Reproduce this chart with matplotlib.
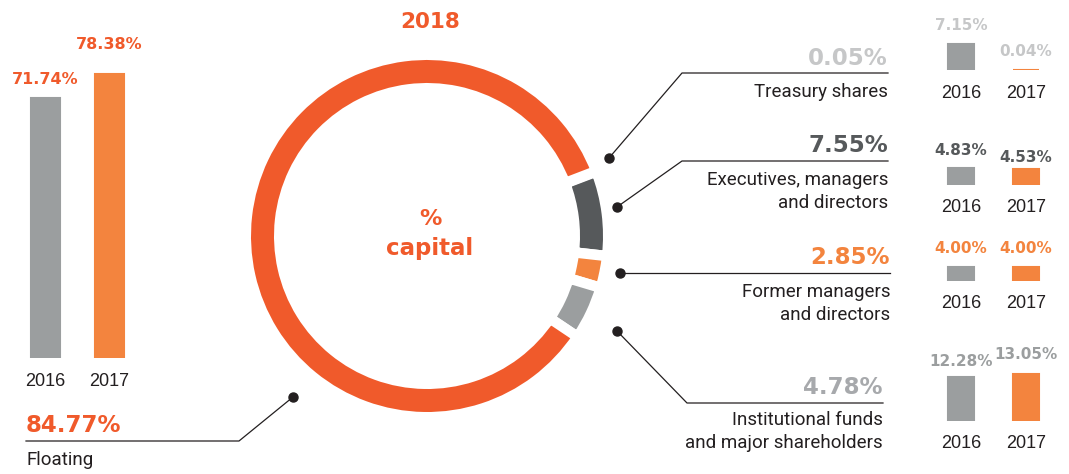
import matplotlib.pyplot as plt

W, H = 1069, 474

# datos 2018 (% capital)
shares_2018 = [0.05, 7.55, 2.85, 4.78, 84.77]
share_names = ["Treasury shares", "Executives, managers\nand directors",
               "Former managers\nand directors",
               "Institutional funds\nand major shareholders", "Floating"]
years = ["2016", "2017"]
floating_hist = [71.74, 78.38]
treasury_hist = [7.15, 0.04]
executives_hist = [4.83, 4.53]
former_hist = [4.00, 4.00]
institutional_hist = [12.28, 13.05]

RED = "#F05A2B"
ORANGE = "#F3843E"
DARK = "#56595B"
GRAY = "#9B9E9F"
LIGHT = "#C6C7C8"
INK = "#231F20"
NARROW = ["Roboto", "DejaVu Sans"]
SCALE = 3.62  # px por punto porcentual

fig = plt.figure(figsize=(W / 100, H / 100), dpi=100)


def px_axes(x0, y0, x1, y1):
    # caja en pixeles, origen arriba a la izquierda
    return fig.add_axes([x0 / W, 1 - y1 / H, (x1 - x0) / W, (y1 - y0) / H])


# donut
cx, cy, r_out, r_in, lw = 427, 236, 176, 153, 7.5
half = lw / 72 * 100 / 2
ax_pie = px_axes(cx - 195, cy - 195, cx + 195, cy + 195)
ax_pie.pie(shares_2018, colors=[LIGHT, DARK, ORANGE, GRAY, RED],
           startangle=21, counterclock=False, radius=r_out + half,
           wedgeprops=dict(width=r_out - r_in + 2 * half, edgecolor="white",
                           linewidth=lw))
ax_pie.set_xlim(-195, 195)
ax_pie.set_ylim(-195, 195)
ax_pie.axis("off")


def bar_group(vals, centers, base, bw, lbl_color, fs, offsets, top=15):
    step = centers[1] - centers[0]
    ax = px_axes(centers[0] - step / 2, base - SCALE * top,
                 centers[1] + step / 2, base)
    ax.set_xlim(-0.5, 1.5)
    ax.set_ylim(0, top)
    ax.bar([0, 1], vals, width=(bw - 2) / step, color=[GRAY, ORANGE],
           edgecolor=[GRAY, ORANGE], linewidth=1.5)
    for i, v in enumerate(vals):
        ax.annotate(f"{v:.2f}%", (i, v), xytext=(0, offsets[i]),
                    textcoords="offset pixels", ha="center", va="center",
                    color=lbl_color, fontsize=fs, fontweight="bold",
                    annotation_clip=False)
        ax.annotate(years[i], (i, 0), xytext=(0, -23),
                    textcoords="offset pixels", ha="center", va="center",
                    color=INK, fontsize=13, family="Liberation Sans",
                    annotation_clip=False)
    ax.axis("off")


bar_group(floating_hist, (45.5, 109.5), 358, 31, RED, 11.5, (19, 30), top=90)
bar_group(treasury_hist, (961, 1026), 70, 28, LIGHT, 11, (19, 18))
bar_group(executives_hist, (961, 1026), 185, 28, DARK, 11, (17, 11))
bar_group(former_hist, (961, 1026), 281, 28, ORANGE, 11, (18, 18))
bar_group(institutional_hist, (961, 1026), 421, 28, GRAY, 11, (15, 19))

# capa de textos y lineas guia
ax0 = fig.add_axes([0, 0, 1, 1])
ax0.set_xlim(0, W)
ax0.set_ylim(H, 0)
ax0.axis("off")

ax0.text(430, 22, "2018", ha="center", va="center", color=RED,
         fontsize=15.5, fontweight="bold")
ax0.text(430, 219, "%", ha="center", va="center", color=RED,
         fontsize=16, fontweight="bold")
ax0.text(430, 249, "capital", ha="center", va="center", color=RED,
         fontsize=16.5, fontweight="bold")

leaders = [
    [(609, 158), (682, 73), (888, 73)],
    [(617, 207), (682, 161), (888, 161)],
    [(620, 273), (890, 273)],
    [(617, 331), (687, 403), (883, 403)],
    [(293, 397), (239, 441), (26, 441)],
]
value_pos = [(888, 58), (888, 145), (890, 257), (883, 387), (26, 425)]
name_y = [92, 180, 292, 420, 460]
value_colors = [LIGHT, DARK, ORANGE, "#A7A9AC", RED]

for k, pts in enumerate(leaders):
    xs = [p[0] for p in pts]
    ys = [p[1] for p in pts]
    ax0.plot(xs, ys, color=INK, lw=0.9)
    ax0.plot(xs[0], ys[0], "o", color=INK, ms=6.5)
    ha = "left" if k == 4 else "right"
    vx, vy = value_pos[k]
    ax0.text(vx, vy, f"{shares_2018[k]:.2f}%", ha=ha, va="center",
             color=value_colors[k], fontsize=16.5, fontweight="bold")
    for j, line in enumerate(share_names[k].split("\n")):
        ax0.text(vx, name_y[k] + 23 * j, line, ha=ha, va="center",
                 color=INK, fontsize=13.5, family=NARROW)

fig.savefig("out.png", dpi=100)
